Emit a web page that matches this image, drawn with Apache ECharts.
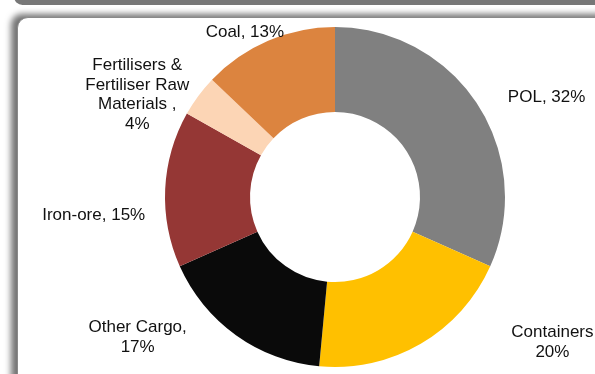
<!DOCTYPE html>
<html>
<head>
<meta charset="utf-8">
<script src="https://cdn.jsdelivr.net/npm/echarts@6/dist/echarts.min.js"></script>
<style>
  html, body { margin: 0; padding: 0; width: 595px; height: 374px; overflow: hidden; background: #ffffff; }
  #topbar { position: absolute; left: 14px; top: -12px; width: 620px; height: 17px; background: #777777; border-radius: 10px; }
  #panel { position: absolute; left: 17px; top: 17px; width: 620px; height: 400px; background: #ffffff;
           border: 1px solid #8a8a8a; border-radius: 11px; box-shadow: -6px -3px 6px rgba(0,0,0,0.55); }
  #chart { position: absolute; left: 0; top: 0; width: 595px; height: 374px; }
</style>
</head>
<body>
<div id="topbar"></div>
<div id="panel"></div>
<div id="chart"></div>
<script>
// Data
var categories = ['POL', 'Containers', 'Other Cargo', 'Iron-ore', 'Fertilisers & Fertiliser Raw Materials', 'Coal'];
var values = [32, 20, 17, 15, 4, 13];
var labelTexts = ['POL, 32%', 'Containers\n20%', 'Other Cargo,\n17%', 'Iron-ore, 15%', 'Fertilisers &\nFertiliser Raw\nMaterials ,\n4%', 'Coal, 13%'];
var colors = ['#808080', '#FFC000', '#0A0A0A', '#953735', '#FCD5B5', '#DC843F'];

// label fine offsets (dx, dy) of the label centre relative to library placement
var labelShift = [[3.5, 0.5], [68.5, -13.5], [-26, -9], [9, 27], [17, 7.5], [36.5, 4]];

var chart = echarts.init(document.getElementById('chart'), null, { renderer: 'canvas' });
var option = {
  backgroundColor: 'transparent',
  animation: false,
  series: [{
    type: 'pie',
    center: [335, 197],
    radius: [85, 170],
    startAngle: 90,
    clockwise: true,
    avoidLabelOverlap: false,
    label: {
      show: true,
      position: 'outside',
      formatter: function (p) { return labelTexts[p.dataIndex]; },
      fontFamily: '"Liberation Sans", Arial, sans-serif',
      fontSize: 17,
      lineHeight: 19.5,
      color: '#111111'
    },
    labelLine: { show: false, length: 14, length2: 10 },
    labelLayout: function (p) {
      var s = labelShift[p.dataIndex];
      var r = p.labelRect;
      return {
        x: r.x + r.width / 2 + s[0],
        y: r.y + r.height / 2 + s[1],
        align: 'center',
        verticalAlign: 'middle'
      };
    },
    itemStyle: { borderWidth: 0 },
    emphasis: { disabled: true },
    data: categories.map(function (c, i) {
      return { name: c, value: values[i], itemStyle: { color: colors[i] } };
    })
  }]
};
chart.setOption(option);
</script>
</body>
</html>
